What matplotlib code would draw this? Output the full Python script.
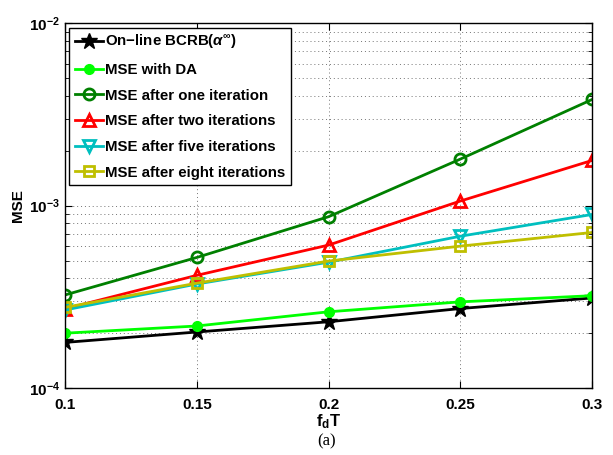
import math
import matplotlib
matplotlib.use("Agg")
import matplotlib.pyplot as plt
from matplotlib.ticker import FixedLocator, FuncFormatter, LogLocator, NullFormatter

plt.rcParams["font.family"] = ["Liberation Sans", "DejaVu Sans"]
plt.rcParams["font.weight"] = "bold"
plt.rcParams["mathtext.fontset"] = "custom"
plt.rcParams["mathtext.rm"] = "Liberation Sans:bold"
plt.rcParams["mathtext.bf"] = "Liberation Sans:bold"
plt.rcParams["mathtext.it"] = "Liberation Sans:italic"

# doppler rate f_d*T
fdT = [0.1, 0.15, 0.2, 0.25, 0.3]

bcrb = [1.78e-4, 2.03e-4, 2.31e-4, 2.73e-4, 3.12e-4]
mse_da = [2.0e-4, 2.19e-4, 2.62e-4, 2.97e-4, 3.21e-4]
mse_it1 = [3.24e-4, 5.2e-4, 8.7e-4, 1.80e-3, 3.82e-3]
mse_it2 = [2.72e-4, 4.15e-4, 6.08e-4, 1.06e-3, 1.77e-3]
mse_it5 = [2.68e-4, 3.72e-4, 4.9e-4, 6.8e-4, 8.95e-4]
mse_it8 = [2.77e-4, 3.76e-4, 4.97e-4, 6.0e-4, 7.13e-4]

labels = ["On\u2212line BCRB($\\mathit{\\alpha}^{\\infty}$)",
          "MSE with DA",
          "MSE after one iteration",
          "MSE after two iterations",
          "MSE after five iterations",
          "MSE after eight iterations"]

fig = plt.figure(figsize=(6.13, 4.55), dpi=100)
ax = fig.add_axes([0.106, 0.147, 0.86, 0.802])

lw = 2
ax.plot(fdT, bcrb, color="k", lw=lw, marker="*", ms=12, label=labels[0])
ax.plot(fdT, mse_da, color=(0, 1, 0), lw=lw, marker="o", ms=7, label=labels[1])
ax.plot(fdT, mse_it1, color=(0, 0.5, 0), lw=lw, marker="o", ms=8, mfc="none", mew=2, label=labels[2])
ax.plot(fdT, mse_it2, color=(1, 0, 0), lw=lw, marker="^", ms=9, mfc="none", mew=2, label=labels[3])
ax.plot(fdT, mse_it5, color=(0, 0.75, 0.75), lw=lw, marker="v", ms=9, mfc="none", mew=2, label=labels[4])
ax.plot(fdT, mse_it8, color=(0.75, 0.75, 0), lw=lw, marker="s", ms=7, mfc="none", mew=2, label=labels[5])

ax.set_yscale("log")
ax.set_xlim(0.1, 0.3)
ax.set_ylim(1e-4, 1e-2)
ax.xaxis.set_major_locator(FixedLocator(fdT))
ax.xaxis.set_major_formatter(FuncFormatter(lambda v, p: ("%.2f" % v).rstrip("0")))
ax.yaxis.set_major_locator(LogLocator(base=10))
ax.yaxis.set_minor_locator(LogLocator(base=10, subs=range(2, 10)))
ax.yaxis.set_minor_formatter(NullFormatter())
ax.yaxis.set_major_formatter(FuncFormatter(lambda v, p: "$\\mathbf{10^{%d}}$" % round(math.log10(v))))

ax.tick_params(which="both", direction="in", top=True, right=True, labelsize=11)
ax.tick_params(which="major", length=5)
ax.tick_params(which="minor", length=3)
ax.tick_params(axis="x", pad=7)
ax.grid(True, which="major", axis="x", ls=(0, (1, 3)), color="0.45", lw=0.7)
ax.grid(True, which="both", axis="y", ls=(0, (1, 3)), color="0.45", lw=0.7)
for s in ax.spines.values():
    s.set_linewidth(1)

ax.set_ylabel("MSE", fontsize=11, fontweight="bold", labelpad=3)
ax.set_xlabel("$\\mathbf{f_dT}$", fontsize=12, labelpad=0)
fig.text(0.533, 0.03, "(a)", family=["Liberation Serif", "DejaVu Serif"], fontweight="normal", fontsize=12, ha="center", va="center")

leg = ax.legend(loc="upper left", fontsize=10.8, frameon=True, fancybox=False,
                framealpha=1, edgecolor="k", borderaxespad=0.3, handlelength=1.9,
                handletextpad=0.15, labelspacing=0.78, borderpad=0.35)
leg.get_frame().set_linewidth(1)

fig.savefig("out.png", dpi=100)
